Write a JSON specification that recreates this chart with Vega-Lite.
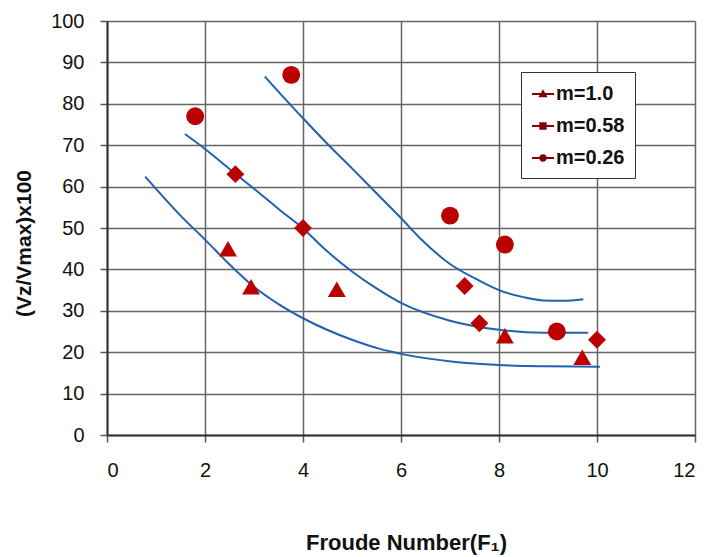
{
  "$schema": "https://vega.github.io/schema/vega-lite/v6.json",
  "width": 588,
  "height": 414,
  "autosize": {"type": "none"},
  "padding": {"left": 107, "top": 21, "right": 14, "bottom": 122},
  "background": "white",
  "config": {
    "view": {"stroke": null},
    "axis": {
      "labelFont": "Liberation Sans",
      "labelFontSize": 20,
      "labelColor": "#111",
      "titleFont": "Liberation Sans",
      "titleFontWeight": "bold",
      "titleColor": "#111",
      "gridColor": "#666",
      "gridWidth": 1.5,
      "gridOpacity": 1,
      "domainColor": "#333",
      "domainWidth": 2,
      "tickColor": "#555",
      "tickWidth": 1.5,
      "tickSize": 7
    }
  },
  "datasets": {
    "points": [
      {"F": 2.47, "V": 45, "m": "m=1.0"},
      {"F": 2.94, "V": 35.8, "m": "m=1.0"},
      {"F": 4.69, "V": 35.2, "m": "m=1.0"},
      {"F": 8.12, "V": 24, "m": "m=1.0"},
      {"F": 9.7, "V": 18.8, "m": "m=1.0"},
      {"F": 2.62, "V": 63, "m": "m=0.58"},
      {"F": 4.0, "V": 50, "m": "m=0.58"},
      {"F": 7.3, "V": 36, "m": "m=0.58"},
      {"F": 7.6, "V": 27, "m": "m=0.58"},
      {"F": 10.0, "V": 23, "m": "m=0.58"},
      {"F": 1.8, "V": 77, "m": "m=0.26"},
      {"F": 3.76, "V": 87, "m": "m=0.26"},
      {"F": 7.0, "V": 53, "m": "m=0.26"},
      {"F": 8.12, "V": 46, "m": "m=0.26"},
      {"F": 9.18, "V": 25, "m": "m=0.26"}
    ],
    "curves": [
      {"F": 0.78, "V": 62.4, "c": "a"},
      {"F": 1.5, "V": 53.0, "c": "a"},
      {"F": 2.0, "V": 47.2, "c": "a"},
      {"F": 2.5, "V": 41.2, "c": "a"},
      {"F": 3.0, "V": 35.8, "c": "a"},
      {"F": 3.5, "V": 31.6, "c": "a"},
      {"F": 4.0, "V": 28.2, "c": "a"},
      {"F": 5.0, "V": 23.0, "c": "a"},
      {"F": 5.57, "V": 20.8, "c": "a"},
      {"F": 6.0, "V": 19.6, "c": "a"},
      {"F": 7.07, "V": 17.7, "c": "a"},
      {"F": 8.0, "V": 16.9, "c": "a"},
      {"F": 9.0, "V": 16.6, "c": "a"},
      {"F": 10.06, "V": 16.5, "c": "a"},
      {"F": 1.59, "V": 72.7, "c": "b"},
      {"F": 2.0, "V": 69.1, "c": "b"},
      {"F": 2.61, "V": 63.2, "c": "b"},
      {"F": 3.0, "V": 59.5, "c": "b"},
      {"F": 3.5, "V": 54.6, "c": "b"},
      {"F": 4.0, "V": 49.9, "c": "b"},
      {"F": 4.5, "V": 44.3, "c": "b"},
      {"F": 5.0, "V": 39.5, "c": "b"},
      {"F": 5.5, "V": 35.4, "c": "b"},
      {"F": 6.0, "V": 31.9, "c": "b"},
      {"F": 7.0, "V": 27.6, "c": "b"},
      {"F": 8.0, "V": 25.4, "c": "b"},
      {"F": 8.9, "V": 24.7, "c": "b"},
      {"F": 9.82, "V": 24.7, "c": "b"},
      {"F": 3.22, "V": 86.6, "c": "c"},
      {"F": 3.6, "V": 81.6, "c": "c"},
      {"F": 4.0, "V": 76.5, "c": "c"},
      {"F": 4.5, "V": 70.3, "c": "c"},
      {"F": 5.0, "V": 64.4, "c": "c"},
      {"F": 5.5, "V": 58.4, "c": "c"},
      {"F": 6.0, "V": 52.4, "c": "c"},
      {"F": 6.4, "V": 47.4, "c": "c"},
      {"F": 7.0, "V": 41.3, "c": "c"},
      {"F": 7.58, "V": 37.4, "c": "c"},
      {"F": 8.0, "V": 35.0, "c": "c"},
      {"F": 8.5, "V": 33.3, "c": "c"},
      {"F": 8.9, "V": 32.5, "c": "c"},
      {"F": 9.3, "V": 32.4, "c": "c"},
      {"F": 9.72, "V": 32.8, "c": "c"}
    ]
  },
  "resolve": {"scale": {"shape": "independent"}, "legend": {"shape": "independent"}},
  "layer": [
    {
      "data": {"name": "curves"},
      "mark": {"type": "line", "color": "#2260B0", "strokeWidth": 2, "interpolate": "monotone", "clip": true},
      "encoding": {
        "x": {"field": "F", "type": "quantitative"},
        "y": {"field": "V", "type": "quantitative"},
        "detail": {"field": "c"}
      }
    },
    {
      "data": {"name": "points"},
      "mark": {"type": "point", "filled": true, "color": "#BB0000", "opacity": 1, "size": 320},
      "encoding": {
        "x": {
          "field": "F",
          "type": "quantitative",
          "scale": {"domain": [0, 12], "nice": false, "zero": false},
          "axis": {
            "values": [0, 2, 4, 6, 8, 10, 12],
            "title": "Froude Number(F₁)",
            "titleFontSize": 22,
            "titleX": 299,
            "titleY": 107,
            "titleBaseline": "middle",
            "labelPadding": 18
          }
        },
        "y": {
          "field": "V",
          "type": "quantitative",
          "scale": {"domain": [0, 100], "nice": false},
          "axis": {
            "values": [0, 10, 20, 30, 40, 50, 60, 70, 80, 90, 100],
            "title": "(Vz/Vmax)x100",
            "titleFontSize": 21,
            "titleAngle": -90,
            "titleX": -83,
            "titleY": 222,
            "titleAlign": "center",
            "titleBaseline": "middle",
            "labelPadding": 16
          }
        },
        "shape": {
          "field": "m",
          "type": "nominal",
          "scale": {"domain": ["m=1.0", "m=0.58", "m=0.26"], "range": ["triangle-up", "diamond", "circle"]},
          "legend": null
        }
      }
    },
    {
      "data": {"name": "points"},
      "mark": {"type": "point", "filled": true, "color": "#800000", "opacity": 0, "size": 10},
      "encoding": {
        "x": {"field": "F", "type": "quantitative"},
        "y": {"field": "V", "type": "quantitative"},
        "shape": {
          "field": "m",
          "type": "nominal",
          "scale": {
            "domain": ["m=1.0", "m=0.58", "m=0.26"],
            "range": [
              "M-1,-0.08L1,-0.08L1,0.08L-1,0.08ZM0,-0.44L0.42,0.3L-0.42,0.3Z",
              "M-1,-0.08L1,-0.08L1,0.08L-1,0.08ZM-0.33,-0.33L0.33,-0.33L0.33,0.33L-0.33,0.33Z",
              "M-1,-0.08L1,-0.08L1,0.08L-1,0.08ZM0.34,0A0.34,0.34,0,1,1,-0.34,0A0.34,0.34,0,1,1,0.34,0Z"
            ]
          },
          "legend": {
            "title": null,
            "orient": "none",
            "legendX": 414,
            "legendY": 51,
            "padding": 10,
            "fillColor": "white",
            "strokeColor": "#333",
            "symbolSize": 484,
            "symbolOpacity": 1,
            "symbolFillColor": "#800000",
            "rowPadding": 10,
            "labelFont": "Liberation Sans",
            "labelFontWeight": "bold",
            "labelFontSize": 20,
            "labelColor": "#111",
            "labelOffset": 1
          }
        }
      }
    }
  ]
}
